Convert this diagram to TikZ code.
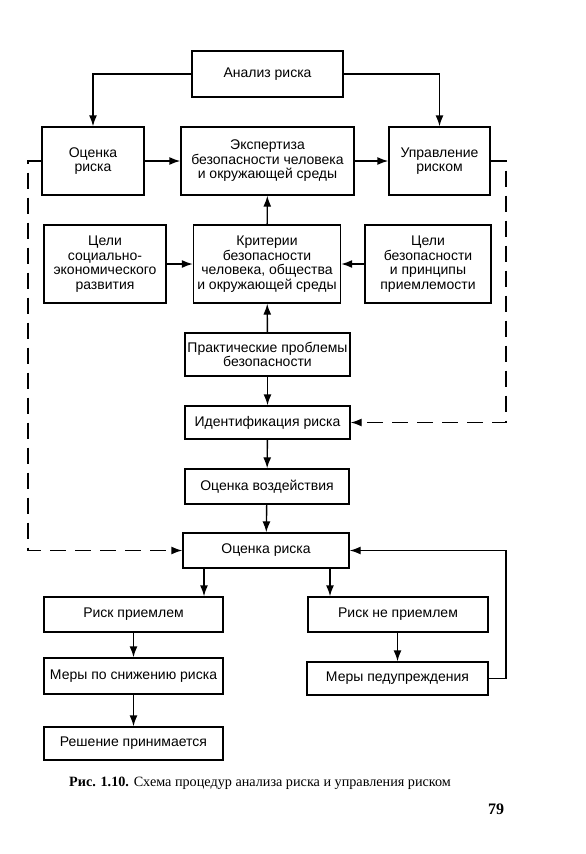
\documentclass[tikz,border=0pt]{standalone}
\usepackage{fontspec}
\setmainfont{Liberation Serif}
\newfontfamily\boxfont{Liberation Sans}
\usetikzlibrary{arrows.meta}
\tikzset{
  box/.style={draw, line width=1.4pt, align=center, inner sep=0pt, fill=white,
    font=\boxfont\fontsize{14}{14.5}\selectfont},
  arr/.style={line width=1.4pt, -{Latex[length=11pt,width=8pt]}},
  dsh/.style={dash pattern=on 16pt off 9pt},
}
\begin{document}
\begin{tikzpicture}[x=1pt,y=-1pt]
\useasboundingbox[fill=white] (0,0) rectangle (586,854);
% column coordinates
\coordinate (lc) at (28,0);
\coordinate (rc) at (506,0);
\coordinate (cL) at (204,0);
\coordinate (cR) at (330,0);
% nodes
\node[box, minimum width=151pt, minimum height=46pt] (an) at (267.5,74) {Анализ риска};
\node[box, minimum width=102pt, minimum height=68pt] (ocr) at (93,161) {Оценка\\риска};
\node[box, minimum width=173pt, minimum height=68pt] (exp) at (267.5,161) {Экспертиза\\безопасности человека\\и окружающей среды};
\node[box, minimum width=101pt, minimum height=68pt] (upr) at (439.5,161) {Управление\\риском};
\node[box, minimum width=122pt, minimum height=78pt] (cs) at (105,264) {Цели\\социально-\\экономического\\развития};
\node[box, minimum width=147pt, minimum height=78pt] (kr) at (267,264) {Критерии\\безопасности\\человека, общества\\и окружающей среды};
\node[box, minimum width=126pt, minimum height=78pt] (cb) at (428,264) {Цели\\безопасности\\и принципы\\приемлемости};
\node[box, minimum width=165pt, minimum height=43pt] (pr) at (267.5,354.5) {Практические проблемы\\безопасности};
\node[box, minimum width=165pt, minimum height=33pt] (id) at (267.5,422.5) {Идентификация риска};
\node[box, minimum width=164pt, minimum height=35pt] (ov) at (267,486.5) {Оценка воздействия};
\node[box, minimum width=166pt, minimum height=35pt] (or2) at (266,550.5) {Оценка риска};
\node[box, minimum width=179pt, minimum height=35pt] (rp) at (133.5,614.5) {Риск приемлем};
\node[box, minimum width=180pt, minimum height=35pt] (rnp) at (398,614.5) {Риск не приемлем};
\node[box, minimum width=179pt, minimum height=36pt] (ms) at (133.5,676) {Меры по снижению риска};
\node[box, minimum width=181pt, minimum height=33pt] (mp) at (397.5,678.5) {Меры педупреждения};
\node[box, minimum width=179pt, minimum height=33pt] (rs) at (133.5,743.5) {Решение принимается};
% connectors
\draw[arr] (an.west) -| (ocr.north);
\draw[arr] (an.east) -| (upr.north);
\draw[arr] (ocr) -- (exp);
\draw[arr] (exp) -- (upr);
\draw[arr] (kr) -- (exp);
\draw[arr] (cs) -- (kr);
\draw[arr] (cb) -- (kr);
\draw[arr] (pr) -- (kr);
\draw[arr] (pr) -- (id);
\draw[arr] (id) -- (ov);
\draw[arr] (ov) -- (or2);
\draw[arr] (or2.south -| cL) -- (rp.north -| cL);
\draw[arr] (or2.south -| cR) -- (rnp.north -| cR);
\draw[arr] (rp) -- (ms);
\draw[arr] (ms) -- (rs);
\draw[arr] (rnp.south -| mp.north) -- (mp.north);
\draw[arr] (mp.east) -- (mp.east -| rc) -- (or2.east -| rc) -- (or2.east);
\draw[arr, dsh] (ocr.west) -- (ocr.west -| lc) -- (or2.west -| lc) -- (or2.west);
\draw[arr, dsh] (upr.east) -- (upr.east -| rc) -- (id.east -| rc) -- (id.east);
% caption
\node[anchor=west, inner sep=0pt, font=\fontsize{14.2}{16}\selectfont] (cap) at (69,783)
  {\textbf{Рис. 1.10.} Схема процедур анализа риска и управления риском};
\node[anchor=center, inner sep=0pt, font=\bfseries\fontsize{16}{18}\selectfont] (pg) at (496,809) {79};
\end{tikzpicture}
\end{document}
